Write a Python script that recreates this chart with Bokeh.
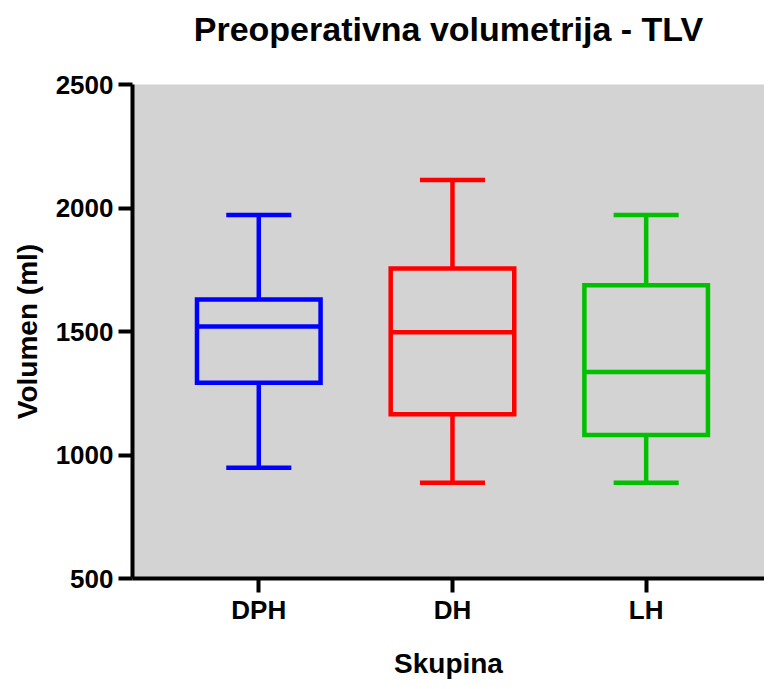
from bokeh.plotting import figure
from bokeh.models import ColumnDataSource, FixedTicker, Range1d, LinearAxis
from bokeh.embed import file_html
from bokeh.resources import INLINE

# ---- data ----
title_text = "Preoperativna volumetrija - TLV"
groups = ["DPH", "DH", "LH"]
whisker_low = [948, 888, 888]
q1 = [1293, 1165, 1081]
median = [1520, 1497, 1336]
q3 = [1630, 1755, 1687]
whisker_high = [1972, 2113, 1972]
colors = ["#0000ff", "#ff0000", "#00c000"]
y_ticks = [500, 1000, 1500, 2000, 2500]

FONT = "Liberation Sans"

# group positions on the x axis: 1, 2, 3
xpos = [i + 1 for i in range(len(groups))]

BOX_W = 0.638
CAP_W = 0.336

src = ColumnDataSource(dict(
    x=xpos, lo=whisker_low, q1=q1, med=median, q3=q3, hi=whisker_high, c=colors,
    bl=[x - BOX_W / 2 for x in xpos], br=[x + BOX_W / 2 for x in xpos],
    cl=[x - CAP_W / 2 for x in xpos], cr=[x + CAP_W / 2 for x in xpos],
))

p = figure(width=764, height=681, output_backend="svg", toolbar_location=None,
           x_range=Range1d(0.348, 3.611),
           y_range=Range1d(500, 2500),
           min_border_left=132, min_border_right=0,
           min_border_top=84, min_border_bottom=100)

xax = p.below[0]
yax = p.left[0]

# chart title: carried by a bare axis above the frame (no line, ticks or labels)
title_axis = LinearAxis(ticker=FixedTicker(ticks=[]), axis_line_color=None,
                        major_tick_line_color=None, minor_tick_line_color=None,
                        major_label_text_alpha=0,
                        major_tick_in=0, major_tick_out=0, major_label_standoff=0,
                        axis_label=title_text, axis_label_standoff=37,
                        axis_label_text_font=FONT, axis_label_text_font_size="34px",
                        axis_label_text_font_style="bold", axis_label_text_color="black")
p.add_layout(title_axis, "above")

p.background_fill_color = "#d3d3d3"
p.border_fill_color = "white"
p.outline_line_color = None
p.xgrid.visible = False
p.ygrid.visible = False

LW = 4.5

# whiskers
p.segment(x0="x", x1="x", y0="q3", y1="hi", line_color="c", line_width=LW, source=src)
p.segment(x0="x", x1="x", y0="lo", y1="q1", line_color="c", line_width=LW, source=src)
# caps
p.segment(x0="cl", x1="cr", y0="hi", y1="hi", line_color="c", line_width=LW, source=src)
p.segment(x0="cl", x1="cr", y0="lo", y1="lo", line_color="c", line_width=LW, source=src)
# boxes
p.vbar(x="x", width=BOX_W, bottom="q1", top="q3", fill_alpha=0, line_color="c",
       line_width=LW, line_join="miter", source=src)
# medians
p.segment(x0="bl", x1="br", y0="med", y1="med", line_color="c", line_width=LW, source=src)

for ax in (xax, yax):
    ax.axis_line_width = 4
    ax.axis_line_color = "black"
    ax.major_tick_line_width = 4
    ax.major_tick_line_color = "black"
    ax.major_tick_in = 0
    ax.major_tick_out = 14
    ax.minor_tick_line_color = None
    ax.major_label_text_font = FONT
    ax.major_label_text_font_style = "bold"
    ax.major_label_text_font_size = "26px"
    ax.major_label_text_color = "black"
    ax.axis_label_text_font = FONT
    ax.axis_label_text_font_style = "bold"
    ax.axis_label_text_font_size = "28px"
    ax.axis_label_text_color = "black"

yax.ticker = FixedTicker(ticks=y_ticks)
yax.major_label_standoff = 5
yax.axis_label = "Volumen (ml)"
yax.axis_label_standoff = 10

xax.ticker = FixedTicker(ticks=xpos)
xax.major_label_overrides = {x: g for x, g in zip(xpos, groups)}
xax.major_label_standoff = 2
xax.axis_label = "Skupina"
xax.axis_label_standoff = 20

open("out.html", "w").write(file_html(p, INLINE))
